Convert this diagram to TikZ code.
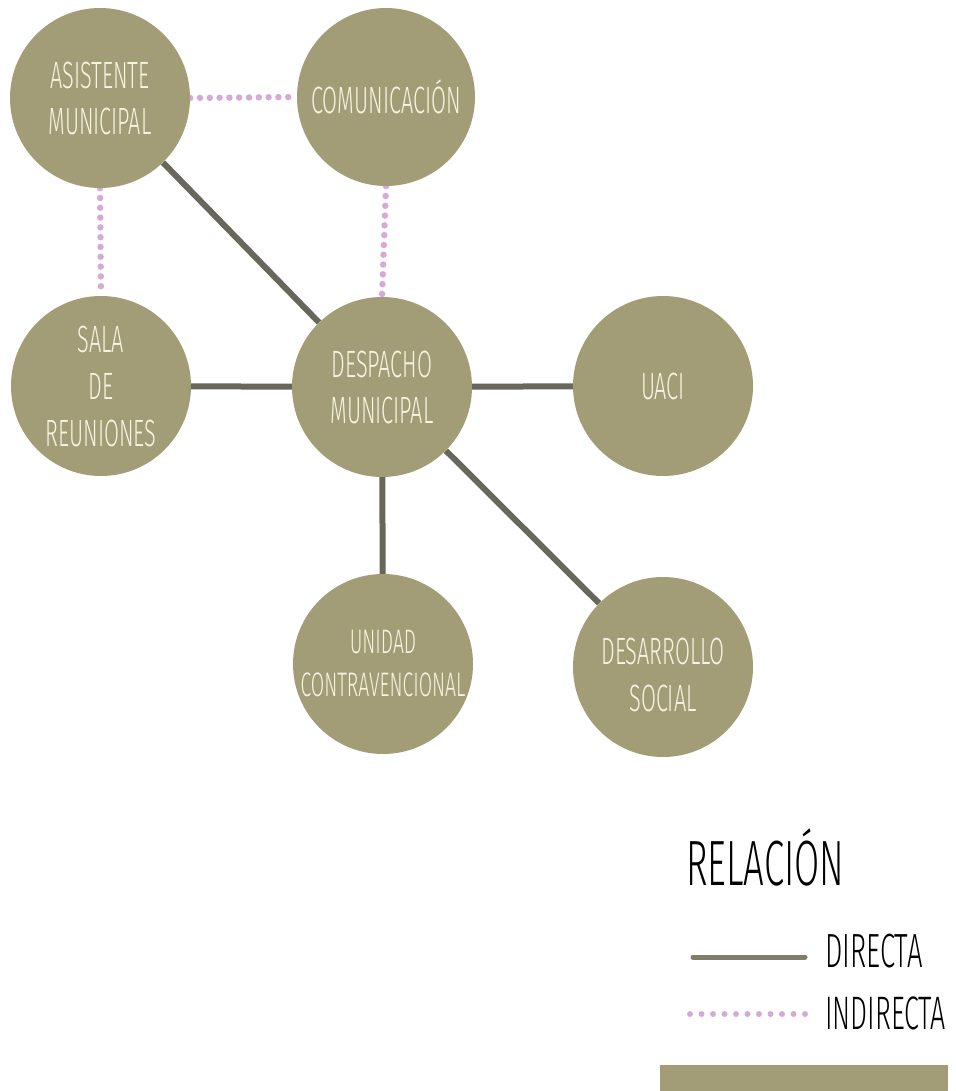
\documentclass[tikz,border=0pt]{standalone}
\usepackage{fontspec}
\usetikzlibrary{backgrounds}
% light condensed face when it is there, regular Fira otherwise
\IfFontExistsTF{Fira Sans Light}
  {\newfontfamily\thinfont[FakeStretch=0.57]{Fira Sans Light}}
  {\newfontfamily\thinfont[FakeStretch=0.57]{Fira Sans}}
\definecolor{olive}{HTML}{A29D76}
\definecolor{linkgray}{HTML}{67675C}
\definecolor{legendline}{HTML}{807E66}
\definecolor{dotpink}{HTML}{D6AAD6}
\definecolor{labelcream}{HTML}{F8F4E2}
\tikzset{
  office/.style={circle, fill=olive, minimum size=180pt, inner sep=0pt,
    text=labelcream, align=center, font=\thinfont\fontsize{38}{46}\selectfont},
  officelabel/.style={inner sep=0pt, text=labelcream, align=center,
    font=\thinfont\fontsize{38}{47}\selectfont},
  direct/.style={draw=linkgray, line width=6pt},
  indirect/.style={draw=dotpink, line width=6.5pt, line cap=round,
    dash pattern=on 0pt off 9.8pt},
  legendtext/.style={anchor=base west, inner sep=0pt, text=black}
}
\begin{document}
\begin{tikzpicture}[x=1pt, y=-1pt]
  \useasboundingbox (0,0) rectangle (955,1091);

  \coordinate (pA) at (100,98);
  \coordinate (pC) at (386,97);
  \coordinate (pD) at (382,387);
  \coordinate (pS) at (101,386);
  \coordinate (pU) at (663,386);
  \coordinate (pN) at (383,664);
  \coordinate (pR) at (663,667);

  % offices
  \node[office] (asist) at (pA) {ASISTENTE\\MUNICIPAL};
  \node[office, minimum size=178pt] (comun) at (pC) {COMUNICACIÓN};
  \node[office] (desp) at (pD) {DESPACHO\\MUNICIPAL};
  \node[office, font=\thinfont\fontsize{38}{47}\selectfont] (sala) at (pS) {SALA\\DE\\REUNIONES};
  \node[office] (uaci) at (pU) {UACI};
  \node[office, font=\thinfont\fontsize{34}{43}\selectfont] (unidad) at (pN) {UNIDAD\\CONTRAVENCIONAL};
  \node[office] (desa) at (pR) {};
  \node[officelabel] (desalabel) at ([yshift=-8pt]desa.center) {DESARROLLO\\SOCIAL};

  % relations, kept behind the circles
  \begin{scope}[on background layer]
    \path[indirect] (asist.east) -- (comun.west);
    \path[indirect] (asist.south) -- (sala.north);
    \path[indirect] (comun.south) -- (desp.north);
    \path[direct] (asist) -- (desp);
    \path[direct] (sala) -- (desp);
    \path[direct] (desp) -- (uaci);
    \path[direct] (desp) -- (unidad);
    \path[direct] (desp) -- (desa);
  \end{scope}

  % legend
  \node[legendtext, font=\thinfont\fontsize{64}{66}\selectfont] (legtitle) at (686,885) {RELACIÓN};
  \coordinate (dirA) at (693,957);
  \coordinate (dirB) at (805,957);
  \path[draw=legendline, line width=5pt, line cap=round] (dirA) -- (dirB);
  \node[legendtext, font=\thinfont\fontsize{48}{50}\selectfont] (dirtext) at (825,967) {DIRECTA};
  \coordinate (indA) at (690,1014);
  \coordinate (indB) at (806,1014);
  \path[draw=dotpink, line width=6pt, line cap=round, dash pattern=on 0pt off 11.5pt] (indA) -- (indB);
  \node[legendtext, font=\thinfont\fontsize{47}{50}\selectfont] (indtext) at (825,1029) {INDIRECTA};
  \fill[olive] (660,1065) rectangle (948,1091);
\end{tikzpicture}
\end{document}
